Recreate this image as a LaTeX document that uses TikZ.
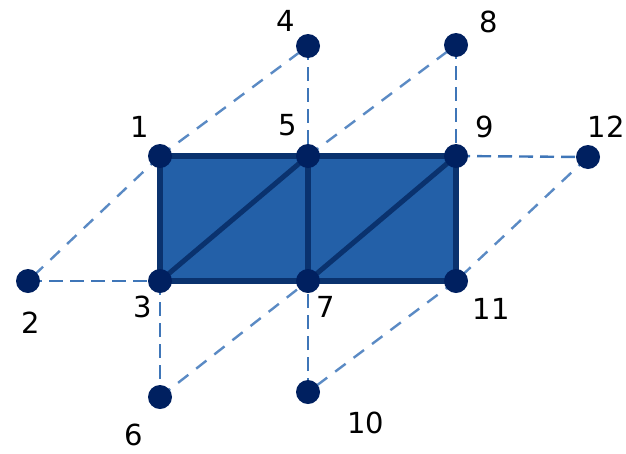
\documentclass[tikz,border=0pt]{standalone}
\usepackage{fontspec}
\setmainfont{DejaVu Sans}
\usetikzlibrary{backgrounds}
\definecolor{dk}{HTML}{002060}
\definecolor{ln}{HTML}{0A326E}
\definecolor{fl}{HTML}{2360A8}
\definecolor{ds}{HTML}{3F76B8}
\definecolor{dd}{HTML}{5A8AC4}
\tikzset{
 pt/.style={circle,fill=dk,draw=none,minimum size=24pt,inner sep=0pt},
 lab/.style={font=\fontsize{29}{29}\selectfont,text=black,inner sep=0pt},
 dsh/.style={draw=ds,line width=2.4pt,dash pattern=on 14pt off 7pt},
 dsd/.style={draw=dd,line width=2.4pt,dash pattern=on 13pt off 10pt},
 sld/.style={draw=ln,line width=6pt,line cap=round},
 sldd/.style={draw=ln,line width=5pt,line cap=round}
}
\begin{document}
\begin{tikzpicture}[x=1pt,y=-1pt]
\useasboundingbox (0,0) rectangle (626,453);
\node[pt] (n1) at (160,156) {};
\node[pt] (n2) at (28,281) {};
\node[pt] (n3) at (160,281) {};
\node[pt] (n4) at (308,46) {};
\node[pt] (n5) at (308,156) {};
\node[pt] (n6) at (160,397) {};
\node[pt] (n7) at (308,281) {};
\node[pt] (n8) at (456,45) {};
\node[pt] (n9) at (456,156) {};
\node[pt] (n10) at (308,392) {};
\node[pt] (n11) at (456,281) {};
\node[pt] (n12) at (588,157) {};
\begin{scope}[on background layer]
\fill[fl] (n1.center) -- (n9.center) -- (n11.center) -- (n3.center) -- cycle;
\draw[dsd] (n1.center) -- (n4.center);
\draw[dsd] (n1.center) -- (n2.center);
\draw[dsh,yshift=-2pt] (n2.center) -- (n3.center);
\draw[dsh,xshift=1pt] (n3.center) -- (n6.center);
\draw[dsd] (n6.center) -- (n7.center);
\draw[dsh,xshift=1pt] (n4.center) -- (n5.center);
\draw[dsd] (n5.center) -- (n8.center);
\draw[dsh,xshift=1pt] (n8.center) -- (n9.center);
\draw[dsh,yshift=-2pt] (n9.center) -- (n12.center);
\draw[dsd] (n12.center) -- (n11.center);
\draw[dsd] (n11.center) -- (n10.center);
\draw[dsh,xshift=1pt] (n10.center) -- (n7.center);
\draw[sld] (n1.center) -- (n5.center);
\draw[sld] (n5.center) -- (n9.center);
\draw[sld] (n9.center) -- (n11.center);
\draw[sld] (n11.center) -- (n7.center);
\draw[sld] (n7.center) -- (n3.center);
\draw[sld] (n3.center) -- (n1.center);
\draw[sldd] (n3.center) -- (n5.center);
\draw[sld] (n5.center) -- (n7.center);
\draw[sldd] (n7.center) -- (n9.center);
\end{scope}
\node[lab] (l1) at (140,127) {1};
\node[lab] (l2) at (31,323) {2};
\node[lab] (l3) at (143,307) {3};
\node[lab] (l4) at (286,21) {4};
\node[lab] (l5) at (288,125) {5};
\node[lab] (l6) at (134,435) {6};
\node[lab] (l7) at (326,307) {7};
\node[lab] (l8) at (489,22) {8};
\node[lab] (l9) at (485,127) {9};
\node[lab] (l10) at (366,423) {10};
\node[lab] (l11) at (491,309) {11};
\node[lab] (l12) at (606,127) {12};
\end{tikzpicture}
\end{document}
